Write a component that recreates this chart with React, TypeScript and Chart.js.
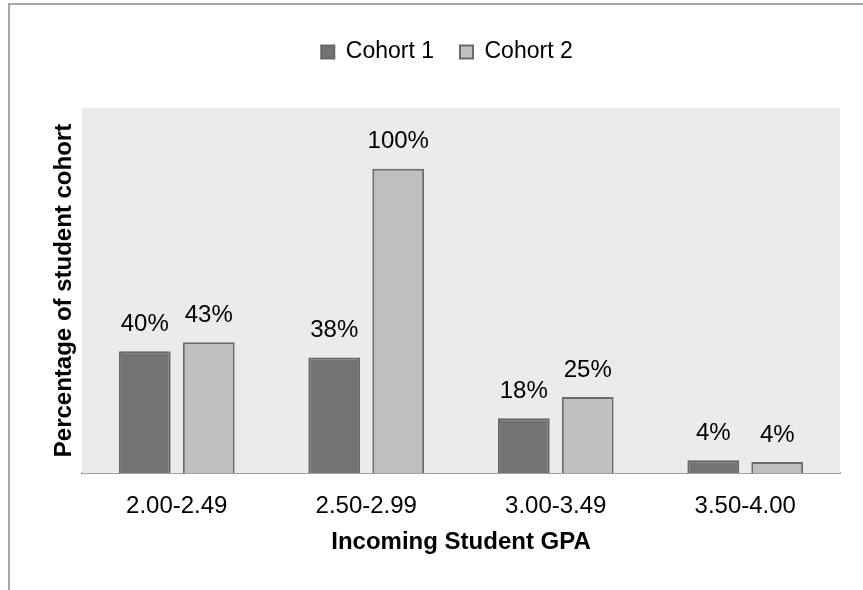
import React, { useEffect, useRef } from "react";
import { Chart, registerables } from "chart.js";

Chart.register(...registerables);

const gpaBands = ["2.00-2.49", "2.50-2.99", "3.00-3.49", "3.50-4.00"];
const cohort1 = [40, 38, 18, 4.2];
const cohort2 = [43, 100, 25, 3.6];
const seriesNames = ["Cohort 1", "Cohort 2"];
const yTitle = "Percentage of student cohort";
const xTitle = "Incoming Student GPA";

const FONT = "'Liberation Sans', Arial, Helvetica, sans-serif";

// Light grey panel behind the bars
const plotBackground = {
  id: "plotBackground",
  beforeDatasetsDraw(chart: any) {
    const { ctx, chartArea } = chart;
    ctx.save();
    ctx.fillStyle = "#ebebeb";
    ctx.fillRect(chartArea.left, chartArea.top, chartArea.right - chartArea.left, chartArea.bottom - chartArea.top);
    ctx.restore();
  },
};

// Extra room between the legend row and the plot
const legendGap = {
  id: "legendGap",
  beforeInit(chart: any) {
    const legend = chart.legend;
    if (!legend || legend._gapPatched) return;
    const fit = legend.fit;
    legend.fit = function () {
      fit.call(this);
      this.height += 34.5;
    };
    legend._gapPatched = true;
  },
};

// Percentage labels above each bar
const valueLabels = {
  id: "valueLabels",
  afterDatasetsDraw(chart: any) {
    const { ctx } = chart;
    ctx.save();
    ctx.fillStyle = "#000";
    ctx.font = `24px ${FONT}`;
    ctx.textAlign = "center";
    ctx.textBaseline = "middle";
    chart.data.datasets.forEach((ds: any, i: number) => {
      const meta = chart.getDatasetMeta(i);
      meta.data.forEach((bar: any, j: number) => {
        const v = ds.data[j];
        ctx.fillText(`${Math.round(v)}%`, bar.x, bar.y - 27);
      });
    });
    ctx.restore();
  },
};

export default function App() {
  const canvasRef = useRef<HTMLCanvasElement | null>(null);

  useEffect(() => {
    if (!canvasRef.current) return;
    Chart.defaults.font.family = FONT;
    const chart = new Chart(canvasRef.current, {
      type: "bar",
      data: {
        labels: gpaBands,
        datasets: [
          {
            label: seriesNames[0],
            data: cohort1,
            backgroundColor: "#737373",
            borderColor: "#666666",
            borderWidth: 2,
          },
          {
            label: seriesNames[1],
            data: cohort2,
            backgroundColor: "#bfbfbf",
            borderColor: "#6b6b6b",
            borderWidth: 2,
          },
        ],
      },
      options: {
        responsive: false,
        animation: false,
        devicePixelRatio: 1,
        layout: { padding: { top: 14.5, left: 31, right: 0, bottom: 0 } },
        datasets: {
          bar: { categoryPercentage: 0.675, barPercentage: 0.81 },
        },
        plugins: {
          legend: {
            position: "top",
            labels: {
              boxWidth: 13,
              boxHeight: 13,
              padding: 26,
              color: "#000",
              font: { size: 23 },
            },
          },
          tooltip: { enabled: false },
        },
        scales: {
          x: {
            grid: { display: false, drawTicks: false },
            border: { display: true, color: "#a0a0a0", width: 2 },
            ticks: { color: "#000", font: { size: 24 }, padding: 19 },
            title: {
              display: true,
              text: xTitle,
              color: "#000",
              font: { size: 24, weight: "bold" },
              padding: { top: 0, bottom: 33.6 },
            },
            afterFit(scale: any) {
              scale.height = 117;
            },
          },
          y: {
            min: 0,
            max: 120,
            grid: { display: false, drawTicks: false },
            border: { display: false },
            ticks: { display: false },
            title: {
              display: true,
              text: yTitle,
              color: "#000",
              font: { size: 24, weight: "bold" },
              padding: { top: 18.6, bottom: 0 },
            },
            afterFit(scale: any) {
              scale.width = 51;
            },
          },
          yRight: {
            position: "right",
            min: 0,
            max: 1,
            grid: { display: false, drawTicks: false },
            border: { display: false },
            ticks: { display: false },
            afterFit(scale: any) {
              scale.width = 23;
            },
          },
        },
      },
      plugins: [plotBackground, legendGap, valueLabels],
    } as any);
    return () => chart.destroy();
  }, []);

  return (
    <div
      style={{
        position: "fixed",
        left: 0,
        top: 0,
        width: 863,
        height: 590,
        overflow: "hidden",
        background: "#fff",
      }}
    >
      <div
        style={{
          position: "absolute",
          left: 8,
          top: 3,
          width: 900,
          height: 700,
          border: "2px solid #a6a6a6",
          boxSizing: "border-box",
        }}
      />
      <canvas
        ref={canvasRef}
        width={863}
        height={590}
        style={{ position: "absolute", left: 0, top: 0, display: "block" }}
      />
    </div>
  );
}
